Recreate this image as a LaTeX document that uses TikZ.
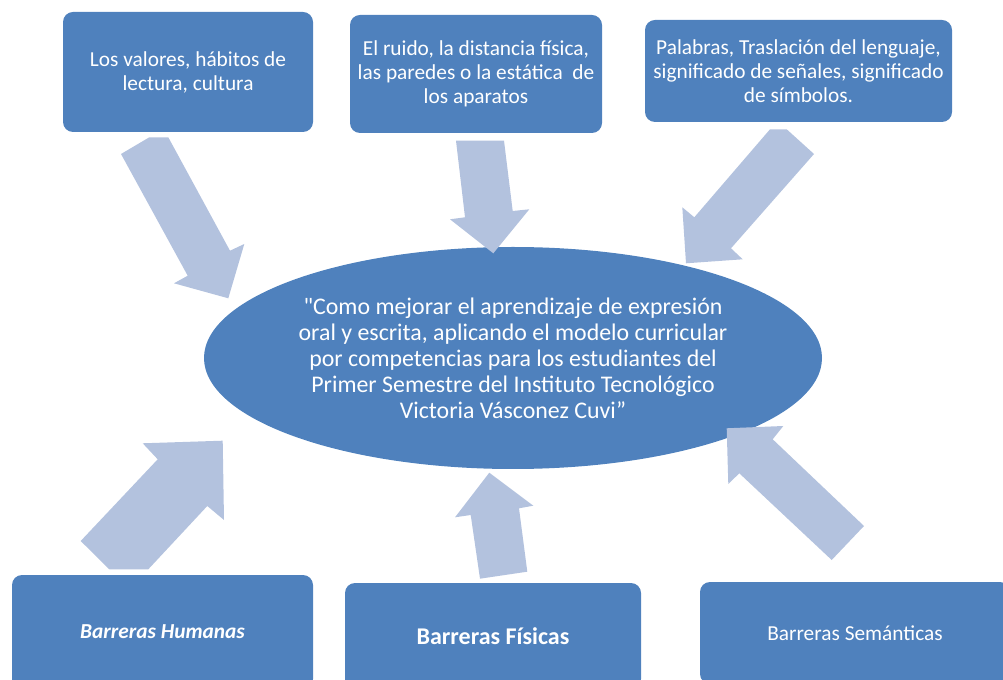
\documentclass[tikz,border=0pt]{standalone}
\usepackage{fontspec}
\setmainfont{Carlito}[Ligatures=TeXOff]
\usetikzlibrary{shapes.geometric}
\definecolor{boxblue}{RGB}{79,129,189}
\definecolor{arrowblue}{RGB}{179,194,222}
\tikzset{
  topbox/.style={draw=none, fill=boxblue, rounded corners=7.5pt, text=white, align=center, inner sep=0pt,
    font=\fontsize{16}{18}\selectfont},
  botbox/.style={topbox},
  centre/.style={ellipse, fill=boxblue, text=white, align=center, inner sep=0pt,
    minimum width=463.5pt, minimum height=166.5pt, font=\fontsize{17.9}{19.5}\selectfont},
  blockarrow/.style={fill=arrowblue, draw=none}
}
\begin{document}
\begin{tikzpicture}[x=0.75pt,y=-0.75pt]
\useasboundingbox (0,0) rectangle (1003,680);

% top boxes
\node[topbox, minimum width=187.5pt, minimum height=90pt] (b1) at (188,72)
  {Los valores, hábitos de\\lectura, cultura};
\node[topbox, minimum width=189pt, minimum height=88.5pt] (b2) at (476,74)
  {El ruido, la distancia física,\\las paredes o la estática~ de\\los aparatos};
\node[topbox, minimum width=230.25pt, minimum height=76.5pt] (b3) at (798.5,71)
  {Palabras, Traslación del lenguaje,\\significado de señales, significado\\de símbolos.};

% centre ellipse
\node[centre] (c) at (513,358)
  {"Como mejorar el aprendizaje de expresión\\oral y escrita, aplicando el modelo curricular\\por competencias para los estudiantes del\\Primer Semestre del Instituto Tecnológico\\Victoria Vásconez Cuvi”};

% bottom boxes (clipped at the page edge)
\begin{scope}
\clip (0,0) rectangle (1003,680);
\node[botbox, minimum width=225.75pt, minimum height=85.5pt] (b4) at (162.5,632)
  {\textbf{\textit{Barreras Humanas}}};
\node[botbox, minimum width=222pt, minimum height=79.5pt, font=\fontsize{18}{21}\selectfont\bfseries] (b5) at (493,636)
  {Barreras Físicas};
\node[botbox, minimum width=232.5pt, minimum height=76.5pt] (b6) at (855,633)
  {Barreras Semánticas};
\end{scope}

% block arrows
\fill[blockarrow] (121,154) -- (149.3,137.3) -- (168.3,137.3) -- (230,250.7) -- (244.3,244)
  -- (228.3,298.3) -- (174,283.3) -- (187.7,275.7) -- cycle;
\fill[blockarrow] (456,140.7) -- (504,140.7) -- (512.7,211) -- (529.3,209.3)
  -- (493.3,253.3) -- (450,219.3) -- (465,217.3) -- cycle;
\fill[blockarrow] (770,129.3) -- (786.7,129.3) -- (814,154) -- (731,248.3) -- (742.7,259.3)
  -- (686,263.3) -- (682.3,207.3) -- (694.3,217.3) -- cycle;
\fill[blockarrow] (222.7,440.7) -- (142.7,443.3) -- (157.7,459.3) -- (80.7,541)
  -- (109.3,569.3) -- (148.3,569.3) -- (207.3,506) -- (224,520) -- cycle;
\fill[blockarrow] (489.3,472.7) -- (533.3,505.7) -- (519,508.3) -- (527.3,571.7)
  -- (480,578.7) -- (470.7,515) -- (455,517.3) -- cycle;
\fill[blockarrow] (726.7,428.3) -- (783.3,426) -- (772.7,439.3) -- (864,526)
  -- (831.7,560) -- (739.3,473.3) -- (728.3,484) -- cycle;
\end{tikzpicture}
\end{document}
